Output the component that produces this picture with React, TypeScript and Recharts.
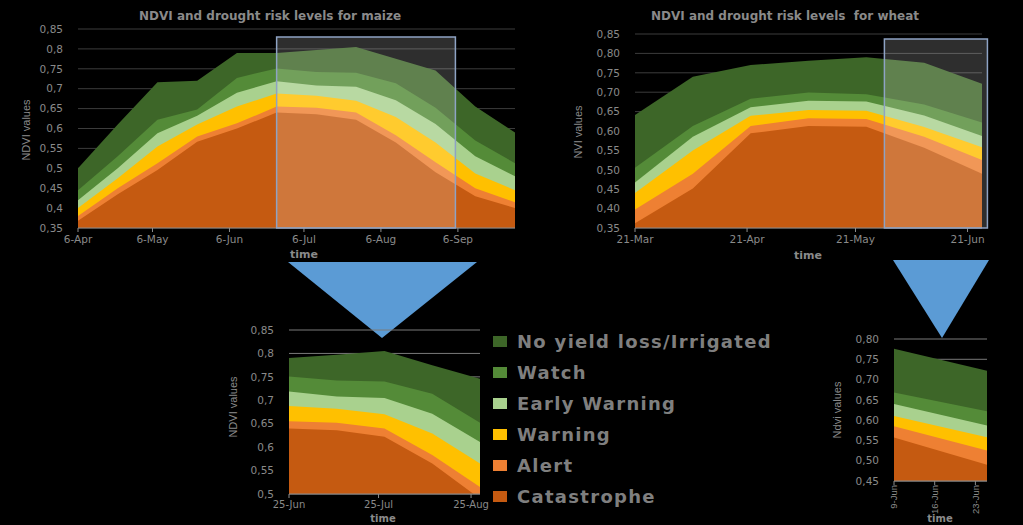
import React from "react";
import { AreaChart, Area, XAxis, YAxis, CartesianGrid, ReferenceArea } from "recharts";

// risk levels, back (top) to front (bottom)
const seriesKeys = ["noLoss", "watch", "early", "warning", "alert", "catastrophe"];
const seriesNames = ["No yield loss/Irrigated", "Watch", "Early Warning", "Warning", "Alert", "Catastrophe"];
const seriesColors = ["#3d6628", "#548b38", "#a9d18e", "#ffc000", "#ee8033", "#c55a11"];

// maize, days after 6-Apr (16-day composites)
const maizeDays = [0, 16, 32, 48, 64, 80, 96, 112, 128, 144, 160, 176];
const maizeNoLoss = [0.5, 0.61, 0.716, 0.72, 0.79, 0.79, 0.797, 0.805, 0.775, 0.746, 0.655, 0.59];
const maizeWatch = [0.445, 0.53, 0.622, 0.648, 0.727, 0.751, 0.742, 0.74, 0.714, 0.652, 0.57, 0.513];
const maizeEarly = [0.42, 0.5, 0.588, 0.632, 0.69, 0.719, 0.708, 0.705, 0.671, 0.611, 0.53, 0.48];
const maizeWarning = [0.4, 0.475, 0.555, 0.61, 0.655, 0.688, 0.682, 0.67, 0.629, 0.565, 0.487, 0.445];
const maizeAlert = [0.38, 0.45, 0.513, 0.58, 0.613, 0.655, 0.652, 0.64, 0.583, 0.515, 0.45, 0.415];
const maizeCatastrophe = [0.368, 0.435, 0.496, 0.567, 0.6, 0.64, 0.636, 0.622, 0.565, 0.49, 0.43, 0.4];

const maizeTickDays = [0, 30, 61, 91, 122, 153];
const maizeTickLabels = ["6-Apr", "6-May", "6-Jun", "6-Jul", "6-Aug", "6-Sep"];
const maizeZoomTickDays = [80, 110, 141];
const maizeZoomTickLabels = ["25-Jun", "25-Jul", "25-Aug"];
const maizeYTicks = [0.35, 0.4, 0.45, 0.5, 0.55, 0.6, 0.65, 0.7, 0.75, 0.8, 0.85];
const maizeZoomYTicks = [0.5, 0.55, 0.6, 0.65, 0.7, 0.75, 0.8, 0.85];

// wheat, days after 21-Mar
const wheatDays = [0, 16, 32, 48, 64, 80, 96];
const wheatNoLoss = [0.641, 0.74, 0.77, 0.781, 0.79, 0.776, 0.722];
const wheatWatch = [0.505, 0.613, 0.683, 0.699, 0.695, 0.668, 0.622];
const wheatEarly = [0.467, 0.585, 0.661, 0.678, 0.676, 0.64, 0.587];
const wheatWarning = [0.44, 0.55, 0.639, 0.654, 0.652, 0.61, 0.558];
const wheatAlert = [0.398, 0.49, 0.613, 0.633, 0.631, 0.585, 0.525];
const wheatCatastrophe = [0.362, 0.452, 0.594, 0.613, 0.611, 0.557, 0.49];

const wheatTickDays = [0, 31, 61, 92];
const wheatTickLabels = ["21-Mar", "21-Apr", "21-May", "21-Jun"];
const wheatZoomTickDays = [80, 87, 94];
const wheatZoomTickLabels = ["9-Jun", "16-Jun", "23-Jun"];
const wheatYTicks = [0.35, 0.4, 0.45, 0.5, 0.55, 0.6, 0.65, 0.7, 0.75, 0.8, 0.85];
const wheatZoomYTicks = [0.45, 0.5, 0.55, 0.6, 0.65, 0.7, 0.75, 0.8];

function buildRows(days: number[], series: number[][]) {
  return days.map((day, i) => {
    const row: any = { day };
    seriesKeys.forEach((k, s) => (row[k] = series[s][i]));
    return row;
  });
}

const maizeRows = buildRows(maizeDays, [maizeNoLoss, maizeWatch, maizeEarly, maizeWarning, maizeAlert, maizeCatastrophe]);
const wheatRows = buildRows(wheatDays, [wheatNoLoss, wheatWatch, wheatEarly, wheatWarning, wheatAlert, wheatCatastrophe]);

const shortComma = (v: number) => String(v).replace(".", ",");
const fixedComma = (v: number) => v.toFixed(2).replace(".", ",");

const TXT = "#8a8a8a";
const tickFont = { fill: TXT, fontSize: 10.5, fontFamily: "DejaVu Sans" };
const narrow = "'Liberation Sans Narrow', 'Liberation Sans', sans-serif";

type ChartProps = {
  rows: any[];
  left: number;
  top: number;
  width: number;
  height: number;
  margin: { top: number; right: number; bottom: number; left: number };
  xDomain: [number, number];
  xTicks: number[];
  xLabels: string[];
  yDomain: [number, number];
  yTicks: number[];
  yFmt: (v: number) => string;
  grid: string;
  xHeight: number;
  xMargin: number;
  xFontSize?: number;
  rotated?: boolean;
  win?: { x1: number; x2: number; y2: number };
};

function RiskChart(p: ChartProps) {
  const label = (v: number) => p.xLabels[p.xTicks.indexOf(v)] ?? "";
  const rotTick = (t: any) => (
    <text
      x={t.x}
      y={t.y}
      transform={`rotate(-90 ${t.x} ${t.y})`}
      textAnchor="end"
      dy="0.35em"
      fill={TXT}
      fontSize={9.5}
      fontFamily={narrow}
    >
      {label(t.payload.value)}
    </text>
  );
  const rows = p.rows.filter((r) => r.day >= p.xDomain[0] && r.day <= p.xDomain[1]);
  return (
    <div style={{ position: "absolute", left: p.left, top: p.top }}>
      <AreaChart width={p.width} height={p.height} data={rows} margin={p.margin}>
        <CartesianGrid vertical={false} stroke={p.grid} strokeWidth={1} />
        <XAxis
          type="number"
          dataKey="day"
          domain={p.xDomain}
          ticks={p.xTicks}
          interval={0}
          allowDataOverflow
          height={p.xHeight}
          tickFormatter={label}
          tick={p.rotated ? rotTick : { ...tickFont, fontSize: p.xFontSize ?? 10.5 }}
          tickSize={4}
          tickMargin={p.xMargin}
          stroke="#8c8c8c"
        />
        <YAxis
          type="number"
          domain={p.yDomain}
          ticks={p.yTicks}
          interval={0}
          allowDataOverflow
          width={48}
          axisLine={false}
          tickLine={false}
          tickMargin={9}
          tickFormatter={p.yFmt}
          tick={tickFont}
        />
        {seriesKeys.map((k, i) => (
          <Area
            key={k}
            type="linear"
            dataKey={k}
            name={seriesNames[i]}
            fill={seriesColors[i]}
            fillOpacity={1}
            stroke="none"
            baseValue="dataMin"
            isAnimationActive={false}
            dot={false}
            activeDot={false}
          />
        ))}
        {p.win && (
          <ReferenceArea
            x1={p.win.x1}
            x2={p.win.x2}
            y1={p.yDomain[0]}
            y2={p.win.y2}
            fill="#ffffff"
            fillOpacity={0.18}
            stroke="#8ea3c4"
            strokeWidth={1.5}
            ifOverflow="visible"
            zIndex={1000}
          />
        )}
      </AreaChart>
    </div>
  );
}

function Text({ x, y, children, size = 11, bold = false, rotate = false, family = "DejaVu Sans", color = TXT }: any) {
  return (
    <div
      style={{
        position: "absolute",
        left: x,
        top: y,
        transform: `translate(-50%, -50%)${rotate ? " rotate(-90deg)" : ""}`,
        whiteSpace: "pre",
        fontFamily: family,
        fontSize: size,
        fontWeight: bold ? "bold" : "normal",
        color,
        lineHeight: 1,
      }}
    >
      {children}
    </div>
  );
}

export default function App() {
  return (
    <div style={{ position: "relative", width: 1023, height: 525, background: "#000", overflow: "hidden" }}>
      <style>{`body{margin:0;background:#000}`}</style>

      <svg width={1023} height={525} style={{ position: "absolute", left: 0, top: 0 }}>
        <polygon points="288,262 477,262 382,338" fill="#5b9bd5" />
        <polygon points="893,260 989,260 942,338" fill="#5b9bd5" />
      </svg>

      <RiskChart
        rows={maizeRows}
        left={0}
        top={0}
        width={545}
        height={262}
        margin={{ top: 29, right: 30, bottom: 14, left: 30 }}
        xDomain={[0, 176]}
        xTicks={maizeTickDays}
        xLabels={maizeTickLabels}
        yDomain={[0.35, 0.85]}
        yTicks={maizeYTicks}
        yFmt={shortComma}
        grid="#3c3c3c"
        xHeight={20}
        xMargin={4}
        win={{ x1: 80, x2: 152, y2: 0.83 }}
      />
      <RiskChart
        rows={wheatRows}
        left={555}
        top={0}
        width={468}
        height={262}
        margin={{ top: 34, right: 41, bottom: 14, left: 32 }}
        xDomain={[0, 96]}
        xTicks={wheatTickDays}
        xLabels={wheatTickLabels}
        yDomain={[0.35, 0.85]}
        yTicks={wheatYTicks}
        yFmt={fixedComma}
        grid="#3c3c3c"
        xHeight={20}
        xMargin={4}
        win={{ x1: 69, x2: 97.5, y2: 0.837 }}
      />
      <RiskChart
        rows={maizeRows}
        left={220}
        top={320}
        width={290}
        height={200}
        margin={{ top: 10, right: 30, bottom: 10, left: 21 }}
        xDomain={[80, 144]}
        xTicks={maizeZoomTickDays}
        xLabels={maizeZoomTickLabels}
        yDomain={[0.5, 0.85]}
        yTicks={maizeZoomYTicks}
        yFmt={shortComma}
        grid="#7a7a7a"
        xHeight={16}
        xMargin={3}
        xFontSize={10}
      />
      <RiskChart
        rows={wheatRows}
        left={830}
        top={325}
        width={193}
        height={200}
        margin={{ top: 14, right: 36, bottom: 10, left: 16 }}
        xDomain={[80, 96]}
        xTicks={wheatZoomTickDays}
        xLabels={wheatZoomTickLabels}
        yDomain={[0.45, 0.8]}
        yTicks={wheatZoomYTicks}
        yFmt={fixedComma}
        grid="#7a7a7a"
        xHeight={34}
        xMargin={0}
        rotated
      />

      <Text x={270} y={16} size={12} bold>NDVI and drought risk levels for maize</Text>
      <Text x={785} y={16} size={12} bold>{"NDVI and drought risk levels  for wheat"}</Text>

      <Text x={304} y={254} size={11} bold>time</Text>
      <Text x={808} y={255} size={11} bold>time</Text>
      <Text x={383} y={519} size={10} bold>time</Text>
      <Text x={940} y={519} size={10} bold>time</Text>

      <Text x={26} y={130} size={11} rotate family={narrow}>NDVI values</Text>
      <Text x={578} y={132} size={11} rotate family={narrow}>NVI values</Text>
      <Text x={233} y={407} size={11} rotate family={narrow}>NDVI values</Text>
      <Text x={837} y={410} size={11} rotate family={narrow}>Ndvi values</Text>

      <div style={{ position: "absolute", left: 493, top: 326 }}>
        {seriesNames.map((n, i) => (
          <div key={n} style={{ display: "flex", alignItems: "center", height: 31 }}>
            <div style={{ width: 14, height: 11, background: seriesColors[i], marginRight: 10 }} />
            <span
              style={{
                fontFamily: "DejaVu Sans",
                fontWeight: "bold",
                fontSize: 18,
                letterSpacing: 1.3,
                color: "#7f7f7f",
                whiteSpace: "pre",
              }}
            >
              {n}
            </span>
          </div>
        ))}
      </div>
    </div>
  );
}
